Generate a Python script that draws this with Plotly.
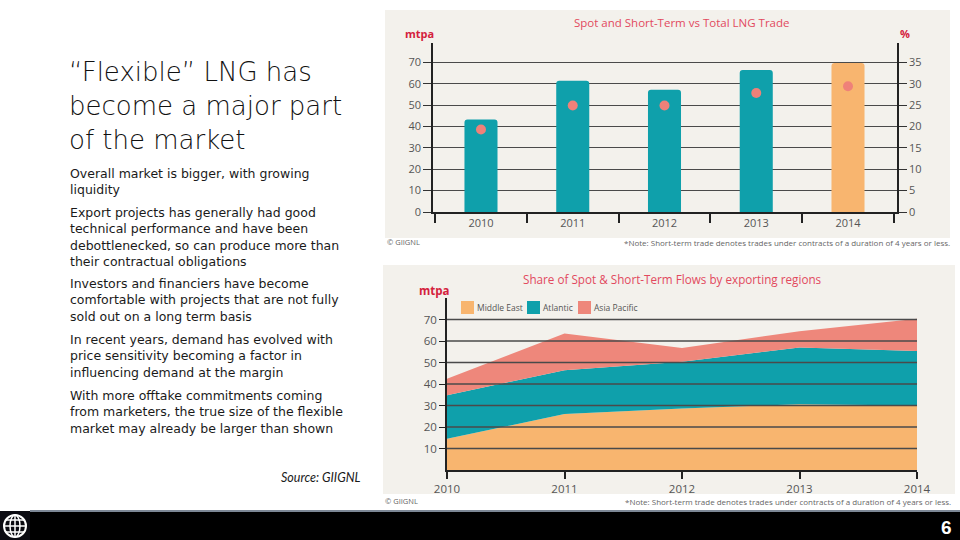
import plotly.graph_objects as go

# ---------------- data ----------------
years = ["2010", "2011", "2012", "2013", "2014"]
total_trade = [43.2, 61.4, 57.2, 66.4, 69.7]          # mtpa, bars
short_term_share = [19.3, 24.9, 24.9, 27.8, 29.4]     # %, dots
bar_colors = ["#0fa0ab", "#0fa0ab", "#0fa0ab", "#0fa0ab", "#f8b56f"]

area_years = [2010, 2011, 2012, 2013, 2014]
middle_east = [14.5, 26.0, 28.6, 30.6, 30.0]
atlantic = [20.3, 20.4, 21.7, 26.4, 25.4]
asia_pacific = [7.6, 17.1, 6.5, 7.5, 15.0]

left_ticks = [0, 10, 20, 30, 40, 50, 60, 70]
right_ticks = [0, 5, 10, 15, 20, 25, 30, 35]
area_ticks = [10, 20, 30, 40, 50, 60, 70]

title_lines = ["“Flexible” LNG has", "become a major part", "of the market"]
bullets = [
    ["Overall market is bigger, with growing", "liquidity"],
    ["Export projects has generally had good", "technical performance and have been",
     "debottlenecked, so can produce more than", "their contractual obligations"],
    ["Investors and financiers have become", "comfortable with projects that are not fully",
     "sold out on a long term basis"],
    ["In recent years, demand has evolved with", "price sensitivity becoming a factor in",
     "influencing demand at the margin"],
    ["With more offtake commitments coming", "from marketers, the true size of the flexible",
     "market may already be larger than shown"],
]
note_text = "*Note: Short-term trade denotes trades under contracts of a duration of 4 years or less."

TEAL = "#0fa0ab"
ORANGE = "#f8b56f"
SALMON = "#ee877b"
RED = "#d4213d"
TITLE_RED = "#e2495e"
PANEL = "#f3f1ec"
GRID = "#4a4a4a"
TICKC = "#555555"

W, H = 960, 540
def px(x): return x / W
def py(y): return 1 - y / H

fig = go.Figure()

# top chart
fig.add_trace(go.Bar(x=years, y=total_trade, marker=dict(color=bar_colors, line=dict(width=0)),
                     width=0.36, xaxis="x", yaxis="y", showlegend=False))
fig.add_trace(go.Scatter(x=years, y=short_term_share, mode="markers",
                         marker=dict(size=10, color="#ef8179"), xaxis="x", yaxis="y2",
                         showlegend=False))

# bottom chart (stacked areas)
for name, vals, col in [("Middle East", middle_east, ORANGE),
                        ("Atlantic", atlantic, TEAL),
                        ("Asia Pacific", asia_pacific, SALMON)]:
    fig.add_trace(go.Scatter(x=area_years, y=vals, name=name, stackgroup="one",
                             mode="lines", line=dict(width=0, color=col), fillcolor=col,
                             xaxis="x2", yaxis="y3", showlegend=False))

tickfont = dict(family="Open Sans", size=11, color=TICKC)

fig.update_layout(
    width=W, height=H, margin=dict(l=0, r=0, t=0, b=0, autoexpand=False),
    paper_bgcolor="white", plot_bgcolor="rgba(0,0,0,0)",
    barcornerradius=3, showlegend=False,
    xaxis=dict(domain=[px(433), px(897)], type="category", range=[-0.523, 4.534],
               showline=True, linecolor="#222",
               linewidth=1.5, ticks="outside", tickson="boundaries", ticklen=9,
               tickcolor="#222", tickwidth=1.5, tickfont=tickfont, anchor="y",
               showgrid=False, automargin=False),
    yaxis=dict(domain=[py(212), py(43)], range=[0, 79], tickvals=left_ticks,
               showgrid=True, gridcolor=GRID, gridwidth=1.4, showline=True, linecolor="#222",
               linewidth=1.5, ticks="outside", ticklen=8, tickcolor="#333", tickwidth=1.4,
               zeroline=False, tickfont=tickfont, anchor="x", automargin=False),
    yaxis2=dict(overlaying="y", side="right", range=[0, 39.5], tickvals=right_ticks,
                showgrid=False, showline=True, linecolor="#222", linewidth=1.5,
                ticks="outside", ticklen=8, tickcolor="#333", tickwidth=1.4, zeroline=False,
                tickfont=tickfont, anchor="x", automargin=False),
    xaxis2=dict(domain=[px(447), px(917)], range=[2010, 2014], tickvals=area_years,
                showline=True, linecolor="#222", linewidth=1.5, ticks="outside", ticklen=7,
                tickcolor="#222", tickwidth=1.5, showgrid=False, zeroline=False,
                tickfont=dict(family="Open Sans", size=11.5, color=TICKC), anchor="y3",
                automargin=False),
    yaxis3=dict(domain=[py(470), py(298)], range=[0, 80], tickvals=area_ticks,
                showgrid=False, showline=True, linecolor="#222", linewidth=1.5,
                ticks="outside", ticklen=6, tickcolor="#222", zeroline=False,
                tickfont=dict(family="Open Sans", size=11.5, color=TICKC), anchor="x2",
                automargin=False),
)

shapes = []
# panel backgrounds
shapes.append(dict(type="rect", xref="paper", yref="paper", x0=px(385), x1=px(950),
                   y0=py(238), y1=py(10), fillcolor=PANEL, line=dict(width=0), layer="below"))
shapes.append(dict(type="rect", xref="paper", yref="paper", x0=px(383), x1=px(955),
                   y0=py(494), y1=py(265), fillcolor=PANEL, line=dict(width=0), layer="below"))
# grid lines over the areas in bottom chart
for v in area_ticks:
    shapes.append(dict(type="line", xref="x2 domain", yref="y3", x0=0, x1=1, y0=v, y1=v,
                       line=dict(color=GRID, width=1.4), layer="above"))
# footer
shapes.append(dict(type="rect", xref="paper", yref="paper", x0=0, x1=1, y0=0, y1=py(512),
                   fillcolor="#000000", line=dict(width=0), layer="above"))
shapes.append(dict(type="line", xref="paper", yref="paper", x0=px(30), x1=1, y0=py(511),
                   y1=py(511), line=dict(color="#7d8896", width=2), layer="above"))
shapes.append(dict(type="rect", xref="paper", yref="paper", x0=0, x1=px(30), y0=0, y1=py(511),
                   fillcolor="#0b0b12", line=dict(width=0), layer="above"))
# globe logo
cx, cy, r = 15, 526, 11
shapes.append(dict(type="circle", xref="paper", yref="paper", x0=px(cx - r), x1=px(cx + r),
                   y0=py(cy + r), y1=py(cy - r), line=dict(color="white", width=2), layer="above"))
shapes.append(dict(type="circle", xref="paper", yref="paper", x0=px(cx - 5), x1=px(cx + 5),
                   y0=py(cy + r), y1=py(cy - r), line=dict(color="white", width=1.5), layer="above"))
shapes.append(dict(type="line", xref="paper", yref="paper", x0=px(cx), x1=px(cx),
                   y0=py(cy + r), y1=py(cy - r), line=dict(color="white", width=1.5), layer="above"))
for dy, hw in [(-6, 9), (0, 11), (6, 9)]:
    shapes.append(dict(type="line", xref="paper", yref="paper", x0=px(cx - hw), x1=px(cx + hw),
                       y0=py(cy + dy), y1=py(cy + dy), line=dict(color="white", width=1.5),
                       layer="above"))
# legend squares
legend_items = [("Middle East", ORANGE, 461), ("Atlantic", TEAL, 527), ("Asia Pacific", SALMON, 578)]
for name, col, x0 in legend_items:
    shapes.append(dict(type="rect", xref="paper", yref="paper", x0=px(x0), x1=px(x0 + 13),
                       y0=py(314), y1=py(301), fillcolor=col, line=dict(width=0)))
fig.update_layout(shapes=shapes)

ann = []
def text(x, y, s, size, color="#1a1a1a", xanchor="left", family="Lato", weight=None, italic=False):
    f = dict(family=family, size=size, color=color)
    if weight:
        f["weight"] = weight
    if italic:
        f["style"] = "italic"
    ann.append(dict(x=px(x), y=py(y), xref="paper", yref="paper", text=s, showarrow=False,
                    xanchor=xanchor, yanchor="middle", align="left", font=f))

# slide title (3 lines, 34 px apart -> 1.3 em line spacing)
text(67, 106, "<br>".join(title_lines), 26.0, color="#111", family="DejaVu Sans", weight=200)
# bullet paragraphs
LS = 16.25
starts = [173, 213, 284, 340, 396]
for para, y0 in zip(bullets, starts):
    text(68, y0 + (len(para) - 1) * LS / 2, "<br>".join(para), 12.5, color="#1a1a1a",
         family="DejaVu Sans")
text(363, 477, "Source: GIIGNL", 12.5, xanchor="right", italic=True)

for name, col, x0 in legend_items:
    text(x0 + 14, 307.5, name, 8.5, color="#555", family="Open Sans")

text(682, 22, "Spot and Short-Term vs Total LNG Trade", 11.5, color=TITLE_RED,
     xanchor="center", family="Open Sans")
text(672, 279, "Share of Spot &amp; Short-Term Flows by exporting regions", 11.7, color=TITLE_RED,
     xanchor="center", family="Open Sans")
text(403, 33, "mtpa", 11, color=RED, family="Open Sans", weight=700)
text(898, 33, "%", 11, color=RED, family="Open Sans", weight=700)
text(417, 290, "mtpa", 11.5, color=RED, family="Open Sans", weight=700)

text(385, 242, "© GIIGNL", 7.5, color="#666", family="Open Sans")
text(952, 242, note_text, 8, color="#666", xanchor="right", family="Open Sans")
text(383, 501, "© GIIGNL", 7.5, color="#666", family="Open Sans")
text(953, 501, note_text, 8, color="#666", xanchor="right", family="Open Sans")

text(946, 527, "6", 19, color="white", xanchor="center", family="Liberation Sans", weight=700)

fig.update_layout(annotations=ann)
fig.write_html("out.html", config={"displayModeBar": False},
               post_script="document.body.style.margin='0';document.body.style.overflow='hidden';")
